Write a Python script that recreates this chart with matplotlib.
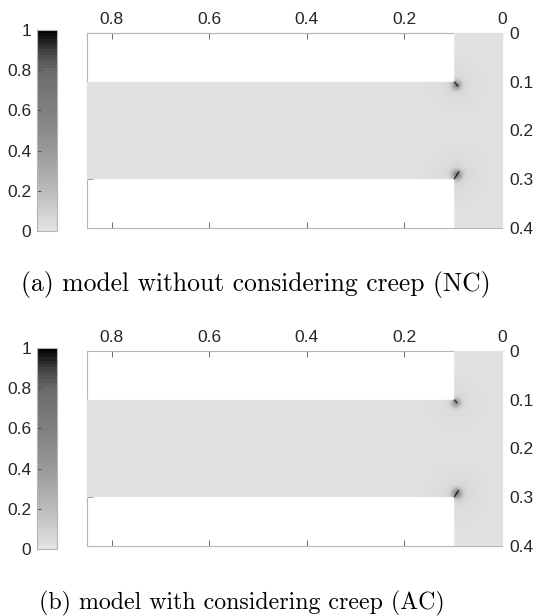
import numpy as np
import matplotlib
matplotlib.use("Agg")
import matplotlib.pyplot as plt
from matplotlib.colors import LinearSegmentedColormap

# ---------------- data ----------------
# geometry (m)
block_x = [0.0, 0.1]          # vertical block along the right side
block_y = [0.0, 0.4]
strip_x = [0.1, 0.86]         # horizontal strip
strip_y = [0.1, 0.3]

x_ticks = [0.8, 0.6, 0.4, 0.2, 0.0]
x_tick_labels = ["0.8", "0.6", "0.4", "0.2", "0"]
y_ticks = [0.0, 0.1, 0.2, 0.3, 0.4]
y_tick_labels = ["0", "0.1", "0.2", "0.3", "0.4"]
cb_ticks = [0, 0.2, 0.4, 0.6, 0.8, 1.0]
cb_tick_labels = ["0", "0.2", "0.4", "0.6", "0.8", "1"]

captions = ["(a) model without considering creep (NC)",
            "(b) model with considering creep (AC)"]

# damage background level
base_damage = [0.01, 0.01]

# cracks at the re-entrant corners: start, end, crack peak
crack_a_start = [(0.1, 0.1), (0.1, 0.3)]
crack_a_end = [(0.092, 0.109), (0.090, 0.284)]
crack_b_start = [(0.1, 0.1), (0.1, 0.3)]
crack_b_end = [(0.094, 0.106), (0.091, 0.286)]
crack_peak = [1.0, 1.0]
# halos: centre, amplitude, width
halo_a_centre = [(0.095, 0.107), (0.094, 0.291)]
halo_a_amp = [0.45, 0.5]
halo_b_centre = [(0.096, 0.106), (0.094, 0.292)]
halo_b_amp = [0.4, 0.5]
halo_sigma = [0.0065, 0.007]
broad_a_amp = [0.04, 0.045]
broad_b_amp = [0.035, 0.045]
broad_sigma = [0.028, 0.03]

# colormap anchors
cmap_vals = [0.0, 0.2, 0.4, 0.6, 0.8, 0.9, 1.0]
cmap_gray = [0.89, 0.73, 0.60, 0.50, 0.42, 0.26, 0.0]

# ---------------- field ----------------
dx = 0.0005
xs = np.arange(0, 0.86 + dx, dx)
ys = np.arange(0, 0.4 + dx, dx)
X, Y = np.meshgrid(xs, ys)


def seg_dist(px, py, a, b):
    ax_, ay_ = a
    bx_, by_ = b
    vx, vy = bx_ - ax_, by_ - ay_
    t = ((px - ax_) * vx + (py - ay_) * vy) / (vx * vx + vy * vy)
    t = np.clip(t, 0, 1)
    return np.hypot(px - (ax_ + t * vx), py - (ay_ + t * vy))


def build_field(starts, ends, hcent, hamp, bamp):
    F = np.full(X.shape, base_damage[0])
    for i in range(len(starts)):
        d = seg_dist(X, Y, starts[i], ends[i])
        F = np.maximum(F, crack_peak[i] * np.exp(-(d / 0.0011) ** 2))
        r2 = (X - hcent[i][0]) ** 2 + (Y - hcent[i][1]) ** 2
        F = F + hamp[i] * np.exp(-r2 / (2 * halo_sigma[i] ** 2))
        F = F + bamp[i] * np.exp(-r2 / (2 * broad_sigma[i] ** 2))
    F = np.clip(F, 0, 1)
    inside = ((X >= block_x[0]) & (X <= block_x[1]) & (Y >= block_y[0]) & (Y <= block_y[1])) | \
             ((X >= strip_x[0]) & (X <= strip_x[1]) & (Y >= strip_y[0]) & (Y <= strip_y[1]))
    return np.ma.masked_where(~inside, F)


fields = [build_field(crack_a_start, crack_a_end, halo_a_centre, halo_a_amp, broad_a_amp),
          build_field(crack_b_start, crack_b_end, halo_b_centre, halo_b_amp, broad_b_amp)]

cmap_img = LinearSegmentedColormap.from_list(
    "dmg", list(zip(cmap_vals, [(g, g, g) for g in cmap_gray])), N=256)
cmap_img.set_bad((1, 1, 1, 0))
cmap_bar = LinearSegmentedColormap.from_list(
    "dmg64", list(zip(cmap_vals, [(g, g, g) for g in cmap_gray])), N=64)

# ---------------- figure ----------------
W, H = 534, 616
fig = plt.figure(figsize=(W / 100, H / 100), dpi=100)
tick_font = "Liberation Sans"
tick_col = "#262626"
frame_col = "#b4b4b4"

ax_tops = [33, 351]
cb_tops = [30, 348]
cap_x = [255.5, 242]
cap_base = [291, 609]
cap_size = [18.4, 17.2]

for k in range(2):
    top = ax_tops[k]
    ax = fig.add_axes([87 / W, 1 - (top + 195) / H, 415 / W, 195 / H])
    im = ax.imshow(fields[k], cmap=cmap_img, vmin=0, vmax=1, origin="lower",
                   extent=[xs[0] - dx / 2, xs[-1] + dx / 2, ys[0] - dx / 2, ys[-1] + dx / 2],
                   interpolation="bilinear", aspect="auto", zorder=3)
    ax.set_xlim(0.851, 0.0)
    ax.set_ylim(0.4, 0.0)
    ax.xaxis.set_ticks_position("both")
    ax.xaxis.set_label_position("top")
    ax.yaxis.set_ticks_position("both")
    ax.set_xticks(x_ticks)
    ax.set_xticklabels(x_tick_labels)
    ax.set_yticks(y_ticks)
    ax.set_yticklabels(y_tick_labels)
    ax.tick_params(axis="x", which="both", direction="in", length=4, width=0.6,
                   color="#555555", labelbottom=False, labeltop=True,
                   labelsize=12.5, labelcolor=tick_col, pad=4)
    ax.tick_params(axis="y", which="both", direction="in", length=4, width=0.6,
                   color="#555555", labelleft=False, labelright=True,
                   labelsize=12.5, labelcolor=tick_col, pad=5)
    for lab in ax.get_xticklabels() + ax.get_yticklabels():
        lab.set_fontfamily(tick_font)
    for sp in ax.spines.values():
        sp.set_color(frame_col)
        sp.set_linewidth(0.8)

    cb_top = cb_tops[k]
    cax = fig.add_axes([37 / W, 1 - (cb_top + 201) / H, 20 / W, 201 / H])
    sm = plt.cm.ScalarMappable(norm=plt.Normalize(0, 1), cmap=cmap_bar)
    cb = fig.colorbar(sm, cax=cax, ticks=cb_ticks)
    cb.ax.set_yticklabels(cb_tick_labels)
    cax.yaxis.set_ticks_position("left")
    cax.yaxis.set_label_position("left")
    cax.tick_params(direction="in", length=3, width=0.6, color="#444444",
                    labelsize=12.5, labelcolor=tick_col, pad=4)
    for lab in cax.get_yticklabels():
        lab.set_fontfamily(tick_font)
    cb.outline.set_edgecolor(frame_col)
    cb.outline.set_linewidth(0.8)

    fig.text(cap_x[k] / W, 1 - cap_base[k] / H, captions[k], ha="center", va="baseline",
             fontsize=cap_size[k], family="cmr10", color="black")

fig.savefig("out.png", dpi=100)
